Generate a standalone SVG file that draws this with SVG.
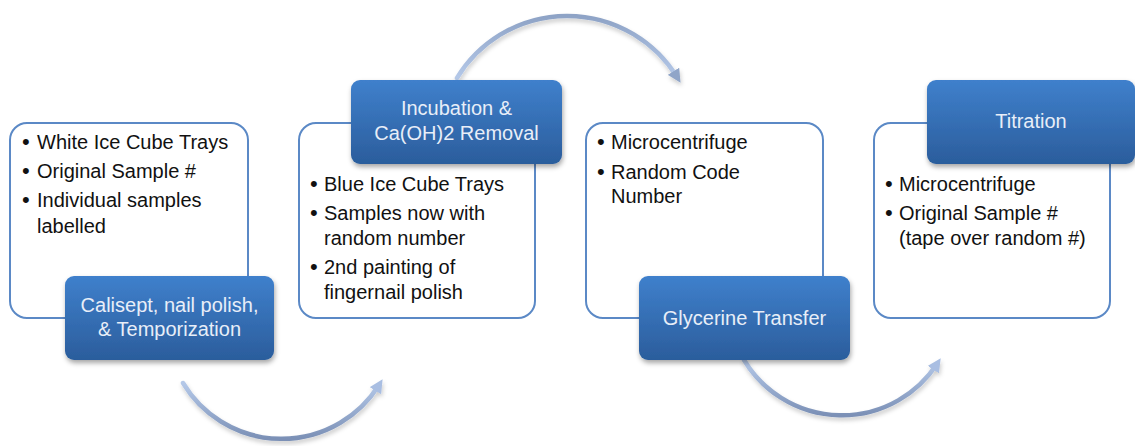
<svg xmlns="http://www.w3.org/2000/svg" width="1135" height="446" viewBox="0 0 1135 446">
  <style>
    .card { fill: #ffffff; stroke: #5b89c6; stroke-width: 2; }
    .head { fill: url(#headFill); filter: url(#headShadow); }
    .item { font-family: "Liberation Sans", Arial, sans-serif; font-size: 20px; fill: #111111; }
    .dot { font-family: "Liberation Sans", Arial, sans-serif; font-size: 22px; fill: #111111; }
    .title { font-family: "Liberation Sans", Arial, sans-serif; font-size: 20px; fill: #e8eef8; text-anchor: middle; }
    .flow { fill: none; stroke-width: 4.5; stroke-linecap: round; filter: url(#flowShadow); }
  </style>
  <defs>
    <linearGradient id="headFill" x1="0" y1="0" x2="0" y2="1">
      <stop offset="0" stop-color="#3f80cc"/>
      <stop offset="1" stop-color="#2b5d9c"/>
    </linearGradient>
    <linearGradient id="flowDown" x1="0" y1="0" x2="0" y2="1">
      <stop offset="0" stop-color="#b4c8e8"/>
      <stop offset="1" stop-color="#7b90b6"/>
    </linearGradient>
    <linearGradient id="flowUp" x1="0" y1="1" x2="0" y2="0">
      <stop offset="0" stop-color="#b4c8e8"/>
      <stop offset="1" stop-color="#8ea3c6"/>
    </linearGradient>
    <filter id="headShadow" x="-10%" y="-10%" width="125%" height="140%">
      <feDropShadow dx="1" dy="3" stdDeviation="2.5" flood-color="#000000" flood-opacity="0.35"/>
    </filter>
    <filter id="flowShadow" x="-10%" y="-20%" width="120%" height="150%">
      <feDropShadow dx="1" dy="3" stdDeviation="2" flood-color="#000000" flood-opacity="0.2"/>
    </filter>
    <marker id="tipLight" viewBox="0 0 10 10" refX="5" refY="5" markerWidth="3" markerHeight="3" orient="auto" markerUnits="strokeWidth">
      <path d="M0,0 L10,5 L0,10 z" fill="#a9bee2"/>
    </marker>
    <marker id="tipMid" viewBox="0 0 10 10" refX="5" refY="5" markerWidth="3" markerHeight="3" orient="auto" markerUnits="strokeWidth">
      <path d="M0,0 L10,5 L0,10 z" fill="#90a5c8"/>
    </marker>
  </defs>

  <!-- curved connectors between the stages -->
  <g id="connectors">
    <path class="flow" d="M183,383 A115,115 0 0 0 379,385" stroke="url(#flowDown)" marker-end="url(#tipLight)"/>
    <path class="flow" d="M457,78 A129,129 0 0 1 677,77" stroke="url(#flowUp)" marker-end="url(#tipMid)"/>
    <path class="flow" d="M744,360 A114,114 0 0 0 937,364" stroke="url(#flowDown)" marker-end="url(#tipLight)"/>
  </g>

  <!-- stage 1 -->
  <g id="stage1">
    <rect class="card" x="10" y="123" width="238" height="195" rx="17"/>
    <text class="dot" x="22" y="149">•</text>
    <text class="item" x="37" y="149">White Ice Cube Trays</text>
    <text class="dot" x="22" y="178">•</text>
    <text class="item" x="37" y="178">Original Sample #</text>
    <text class="dot" x="22" y="207">•</text>
    <text class="item" x="37" y="207">Individual samples</text>
    <text class="item" x="37" y="233">labelled</text>
    <rect class="head" x="65" y="276" width="209" height="84" rx="9"/>
    <text class="title" x="169.5" y="312">Calisept, nail polish,</text>
    <text class="title" x="169.5" y="336">&amp; Temporization</text>
  </g>

  <!-- stage 2 -->
  <g id="stage2">
    <rect class="card" x="299" y="123" width="236" height="195" rx="17"/>
    <text class="dot" x="310" y="191">•</text>
    <text class="item" x="324" y="191">Blue Ice Cube Trays</text>
    <text class="dot" x="310" y="220">•</text>
    <text class="item" x="324" y="220">Samples now with</text>
    <text class="item" x="324" y="245">random number</text>
    <text class="dot" x="310" y="274">•</text>
    <text class="item" x="324" y="274">2nd painting of</text>
    <text class="item" x="324" y="299">fingernail polish</text>
    <rect class="head" x="351" y="80" width="211" height="84" rx="9"/>
    <text class="title" x="456.5" y="115">Incubation &amp;</text>
    <text class="title" x="456.5" y="140">Ca(OH)2 Removal</text>
  </g>

  <!-- stage 3 -->
  <g id="stage3">
    <rect class="card" x="586" y="123" width="237" height="195" rx="17"/>
    <text class="dot" x="597" y="149">•</text>
    <text class="item" x="611" y="149">Microcentrifuge</text>
    <text class="dot" x="597" y="179">•</text>
    <text class="item" x="611" y="179">Random Code</text>
    <text class="item" x="611" y="203">Number</text>
    <rect class="head" x="639" y="276" width="211" height="84" rx="9"/>
    <text class="title" x="744.5" y="325">Glycerine Transfer</text>
  </g>

  <!-- stage 4 -->
  <g id="stage4">
    <rect class="card" x="874" y="123" width="236" height="195" rx="17"/>
    <text class="dot" x="885" y="191">•</text>
    <text class="item" x="899" y="191">Microcentrifuge</text>
    <text class="dot" x="885" y="220">•</text>
    <text class="item" x="899" y="220">Original Sample #</text>
    <text class="item" x="899" y="245">(tape over random #)</text>
    <rect class="head" x="927" y="80" width="208" height="84" rx="9"/>
    <text class="title" x="1031" y="128">Titration</text>
  </g>
</svg>
